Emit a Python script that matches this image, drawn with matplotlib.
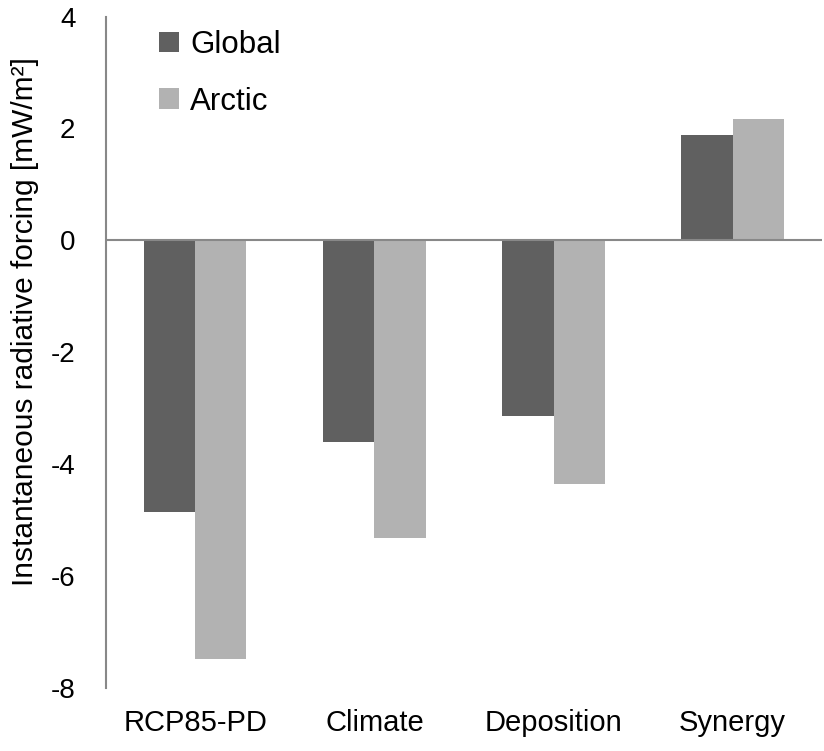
import numpy as np
import matplotlib.pyplot as plt

plt.rcParams['font.family'] = ['Liberation Sans', 'DejaVu Sans']
plt.rcParams['axes.unicode_minus'] = False

categories = ['RCP85-PD', 'Climate', 'Deposition', 'Synergy']
global_vals = [-4.85, -3.6, -3.13, 1.89]
arctic_vals = [-7.49, -5.32, -4.36, 2.17]

fig = plt.figure(figsize=(8.24, 7.51), dpi=100)
ax = fig.add_axes([0.1286, 0.0839, 0.869, 0.894])

x = np.arange(len(categories))
w = 0.285
ax.bar(x - w / 2, global_vals, w, color='#606060', label='Global')
ax.bar(x + w / 2, arctic_vals, w, color='#b2b2b2', label='Arctic')

ax.set_xlim(-0.5, len(categories) - 0.5)
ax.set_ylim(-8, 4)
ax.set_yticks(np.arange(-8, 5, 2))
ax.axhline(0, color='#888888', lw=1.5, zorder=3)

for s in ['top', 'right', 'bottom']:
    ax.spines[s].set_visible(False)
ax.spines['left'].set_color('#888888')
ax.spines['left'].set_linewidth(1.5)

ax.tick_params(axis='y', length=0, pad=22, labelsize=20)
ax.tick_params(axis='x', length=0, pad=15, labelsize=21)
ax.set_xticks(x)
ax.set_xticklabels(categories)

fig.text(25 / 824, 1 - 322 / 751, 'Instantaneous radiative forcing [mW/m²]',
         rotation=90, ha='center', va='center', fontsize=21.5)

ax.legend(loc='upper left', bbox_to_anchor=(0.035, 1.022), frameon=False, fontsize=22.5,
          handlelength=0.65, handleheight=0.65, handletextpad=0.35, labelspacing=0.85)

fig.savefig('out.png', dpi=100)
